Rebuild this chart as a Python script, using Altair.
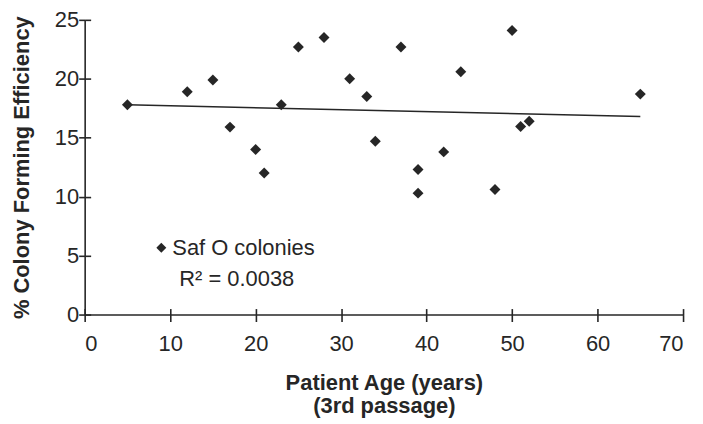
import altair as alt
import pandas as pd

# ---- data ----
ages = [5, 12, 15, 17, 20, 21, 23, 25, 28, 31, 33, 34, 37, 39, 39, 42, 44, 48, 50, 51, 52, 65]
cfe = [17.8, 18.9, 19.9, 15.9, 14.0, 12.0, 17.8, 22.7, 23.5, 20.0, 18.5, 14.7,
       22.7, 12.3, 10.3, 13.8, 20.6, 10.6, 24.1, 15.95, 16.4, 18.7]
series_name = "Saf O colonies"
r2_label = "R² = 0.0038"
x_ticks = [0, 10, 20, 30, 40, 50, 60, 70]
y_ticks = [0, 5, 10, 15, 20, 25]
x_title = ["Patient Age (years)", "(3rd passage)"]
y_title = "% Colony Forming Efficiency"

df = pd.DataFrame({"age": ages, "cfe": cfe, "series": [series_name] * len(ages)})
note_df = pd.DataFrame({"label": [r2_label]})

FONT = "Liberation Sans"
INK = "#262626"
W, H = 601, 296

x_scale = alt.Scale(domain=[0, 70], nice=False, zero=True)
y_scale = alt.Scale(domain=[0, 25], nice=False, zero=True)

points = alt.Chart(df).mark_point(
    shape="diamond", filled=True, size=121, opacity=1
).encode(
    x=alt.X("age:Q", scale=x_scale, axis=alt.Axis(
        values=x_ticks, title=x_title, tickSize=7, labelPadding=12,
        titlePadding=18, titleLineHeight=23)),
    y=alt.Y("cfe:Q", scale=y_scale, axis=alt.Axis(
        values=y_ticks, title=y_title, tickSize=6, labelPadding=0,
        titlePadding=21)),
    color=alt.Color(
        "series:N",
        scale=alt.Scale(range=[INK]),
        legend=alt.Legend(
            title=None, orient="none", legendX=66, legendY=218,
            symbolType="diamond", symbolSize=100, symbolStrokeWidth=0,
            labelFont=FONT, labelFontSize=22, labelColor=INK,
            labelOffset=0, padding=0,
        ),
    ),
)

# inner half of the crossing tick marks (axes folded back onto the plot edges)
inner_ticks = alt.Chart(df).mark_point(opacity=0).encode(
    x=alt.X("age:Q", scale=x_scale, axis=alt.Axis(
        orient="top", offset=-H, values=x_ticks, labels=False, domain=False,
        title=None, tickSize=6)),
    y=alt.Y("cfe:Q", scale=y_scale, axis=alt.Axis(
        orient="right", offset=-W, values=y_ticks, labels=False, domain=False,
        title=None, tickSize=6)),
)

trend = alt.Chart(df).transform_regression(
    "age", "cfe", extent=[5, 65]
).mark_line(color=INK, strokeWidth=1.5).encode(
    x=alt.X("age:Q", scale=x_scale, axis=None),
    y=alt.Y("cfe:Q", scale=y_scale, axis=None),
)

note = alt.Chart(note_df).mark_text(
    align="left", baseline="middle", font=FONT, fontSize=22, color=INK
).encode(x=alt.value(95), y=alt.value(260), text="label:N")

chart = alt.layer(trend, inner_ticks, points, note).resolve_axis(
    x="independent", y="independent"
).properties(
    width=W,
    height=H,
    autosize=alt.AutoSizeParams(type="none"),
    padding={"left": 77, "top": 11, "right": 12, "bottom": 104},
).configure_view(stroke=None).configure_axis(
    grid=False,
    labelFont=FONT, labelFontSize=22, labelColor=INK,
    titleFont=FONT, titleFontSize=22, titleFontWeight="bold", titleColor=INK,
    domainColor=INK, tickColor=INK, domainWidth=1.6, tickWidth=1.6,
)

chart.save("out.html", embed_options={"renderer": "svg", "actions": False})
